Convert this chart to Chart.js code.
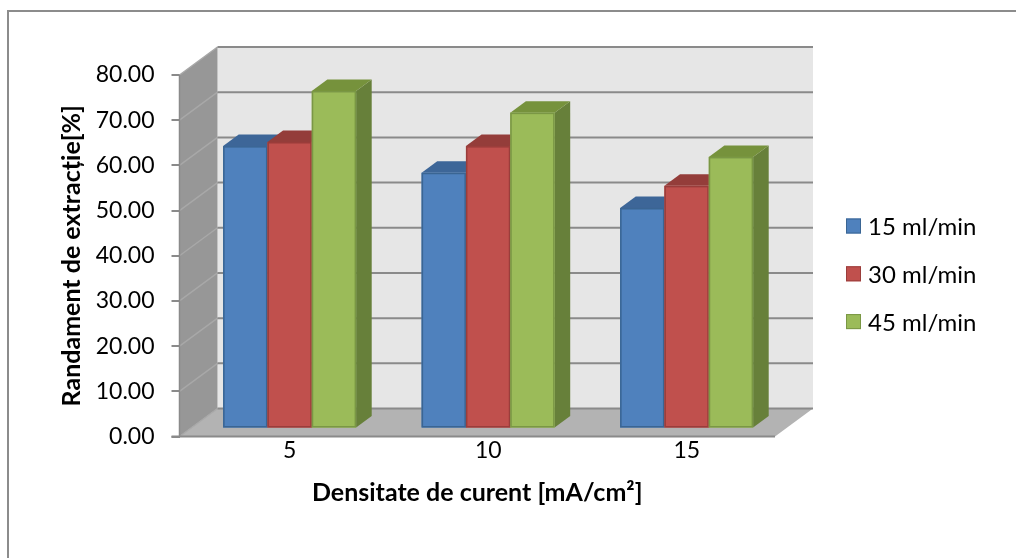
<!DOCTYPE html>
<html>
<head>
<meta charset="utf-8">
<script src="https://cdn.jsdelivr.net/npm/chart.js@4.4.0/dist/chart.umd.min.js"></script>
<style>
  html, body { margin: 0; padding: 0; background: #fff; }
  canvas { display: block; }
</style>
</head>
<body>
<canvas id="chart" width="1016" height="558"></canvas>
<script>
const categories = ["5", "10", "15"];
const seriesNames = ["15 ml/min", "30 ml/min", "45 ml/min"];
const flow15 = [62.5, 56.6, 48.8];
const flow30 = [63.4, 62.5, 53.7];
const flow45 = [74.7, 69.9, 60.1];
const yTickValues = [0, 10, 20, 30, 40, 50, 60, 70, 80];

const faceColors = ["#4F81BD", "#C0504D", "#9BBB59"];
const edgeColors = ["#3A6593", "#9A3D3B", "#7A9745"];
const topColors = ["#3D6698", "#943D3A", "#76923C"];
const sideColors = ["#345887", "#813432", "#67803A"];

// oblique depth of the box, and where the bars sit inside it
const DEPTH = { dx: 38, dy: -28 };
const BAR_FRONT = 8 / 28;
const BAR_DEPTH = 11.5 / 28;

function poly(ctx, pts, fill) {
  ctx.beginPath();
  ctx.moveTo(pts[0][0], pts[0][1]);
  for (let i = 1; i < pts.length; i++) ctx.lineTo(pts[i][0], pts[i][1]);
  ctx.closePath();
  ctx.fillStyle = fill;
  ctx.fill();
}

function seg(ctx, x1, y1, x2, y2, color, w) {
  ctx.beginPath();
  ctx.moveTo(x1, y1);
  ctx.lineTo(x2, y2);
  ctx.strokeStyle = color;
  ctx.lineWidth = w;
  ctx.stroke();
}

const box3d = {
  id: "box3d",
  beforeDraw(chart) {
    const ctx = chart.ctx;
    ctx.save();
    ctx.strokeStyle = "#8c8c8c";
    ctx.lineWidth = 2;
    ctx.strokeRect(8, 11, 1200, 800);
    ctx.restore();
  },
  beforeDatasetsDraw(chart) {
    const { ctx, chartArea: a, scales: { y } } = chart;
    const { dx, dy } = DEPTH;
    const top = y.getPixelForValue(y.max);
    const bot = y.getPixelForValue(0);
    ctx.save();
    ctx.fillStyle = "#E6E6E6";
    ctx.fillRect(a.left + dx, top + dy, a.right - a.left, bot - top);
    poly(ctx, [[a.left, top], [a.left + dx, top + dy], [a.left + dx, bot + dy], [a.left, bot]], "#979797");
    poly(ctx, [[a.left, bot], [a.left + dx, bot + dy], [a.right + dx, bot + dy], [a.right, bot]], "#B3B3B3");
    yTickValues.forEach((v) => {
      const py = y.getPixelForValue(v);
      seg(ctx, a.left, py, a.left + dx, py + dy, "#A8A8A8", 1.5);
      seg(ctx, a.left + dx, py + dy, a.right + dx, py + dy, "#8A8A8A", 2);
    });
    seg(ctx, a.left, top, a.left, bot, "#8A8A8A", 1.5);
    seg(ctx, a.left - 8, bot, a.right, bot, "#8A8A8A", 2);
    ctx.restore();
    // bars are drawn a little way into the box
    ctx.save();
    ctx.translate(dx * BAR_FRONT, dy * BAR_FRONT);
  },
  afterDatasetsDraw(chart) {
    const ctx = chart.ctx;
    ctx.restore();
    const ox = DEPTH.dx * BAR_FRONT, oy = DEPTH.dy * BAR_FRONT;
    const bdx = DEPTH.dx * BAR_DEPTH, bdy = DEPTH.dy * BAR_DEPTH;
    ctx.save();
    categories.forEach((c, i) => {
      chart.data.datasets.forEach((ds, d) => {
        const bar = chart.getDatasetMeta(d).data[i];
        const { x, y, base, width } = bar.getProps(["x", "y", "base", "width"], true);
        const l = x - width / 2 + ox, r = x + width / 2 + ox;
        const t = y + oy, b = base + oy;
        poly(ctx, [[r, t], [r + bdx, t + bdy], [r + bdx, b + bdy], [r, b]], sideColors[d]);
        poly(ctx, [[l, t], [l + bdx, t + bdy], [r + bdx, t + bdy], [r, t]], topColors[d]);
        ctx.fillStyle = faceColors[d];
        ctx.fillRect(l, t, r - l, b - t);
        ctx.strokeStyle = edgeColors[d];
        ctx.lineWidth = 1.5;
        ctx.strokeRect(l + 0.75, t + 0.75, r - l - 1.5, b - t - 1.5);
      });
    });
    ctx.restore();
  },
  afterDraw(chart) {
    const ctx = chart.ctx;
    ctx.save();
    ctx.font = "24px Lato, 'DejaVu Sans', sans-serif";
    ctx.textBaseline = "middle";
    seriesNames.forEach((name, k) => {
      const cy = 226.5 + k * 47.8;
      ctx.fillStyle = faceColors[k];
      ctx.fillRect(846, cy - 8, 15, 15);
      ctx.strokeStyle = edgeColors[k];
      ctx.lineWidth = 1;
      ctx.strokeRect(846.5, cy - 7.5, 14, 14);
      ctx.fillStyle = "#000";
      ctx.fillText(name, 868, cy + 1);
    });
    ctx.restore();
  },
};

const tickFont = { family: "Lato, 'DejaVu Sans', sans-serif", size: 23 };
const titleFont = { family: "Lato, 'DejaVu Sans', sans-serif", size: 25, weight: "bold" };

new Chart(document.getElementById("chart"), {
  type: "bar",
  data: {
    labels: categories,
    datasets: [
      { label: seriesNames[0], data: flow15, backgroundColor: faceColors[0], borderColor: edgeColors[0], borderWidth: 1 },
      { label: seriesNames[1], data: flow30, backgroundColor: faceColors[1], borderColor: edgeColors[1], borderWidth: 1 },
      { label: seriesNames[2], data: flow45, backgroundColor: faceColors[2], borderColor: edgeColors[2], borderWidth: 1 },
    ],
  },
  options: {
    responsive: false,
    animation: false,
    devicePixelRatio: 1,
    layout: { padding: { left: 48, right: 241, top: 75, bottom: 0 } },
    datasets: { bar: { categoryPercentage: 0.67, barPercentage: 1 } },
    plugins: {
      legend: { display: false },
      tooltip: { enabled: false },
    },
    scales: {
      x: {
        grid: { display: false, drawTicks: false },
        border: { display: false },
        ticks: { color: "#000", font: tickFont, padding: 0, labelOffset: 11 },
        title: {
          display: true,
          text: "Densitate de curent [mA/cm²]",
          color: "#000",
          font: titleFont,
          padding: { top: 0, bottom: 50 },
        },
        afterFit: (scale) => { scale.height = 121.5; },
      },
      y: {
        min: 0,
        max: 80,
        afterBuildTicks: (scale) => { scale.ticks = yTickValues.map((v) => ({ value: v })); },
        ticks: { color: "#000", font: tickFont, padding: 17, callback: (v) => Number(v).toFixed(2) },
        grid: { drawOnChartArea: false, drawTicks: true, tickLength: 8, color: "#8A8A8A", lineWidth: 2 },
        border: { display: false },
        title: {
          display: true,
          text: "Randament de extracție[%]",
          color: "#000",
          font: titleFont,
          padding: { top: 9, bottom: 0 },
        },
        afterFit: (scale) => { scale.width = 131.5; },
      },
    },
  },
  plugins: [box3d],
});
</script>
</body>
</html>
